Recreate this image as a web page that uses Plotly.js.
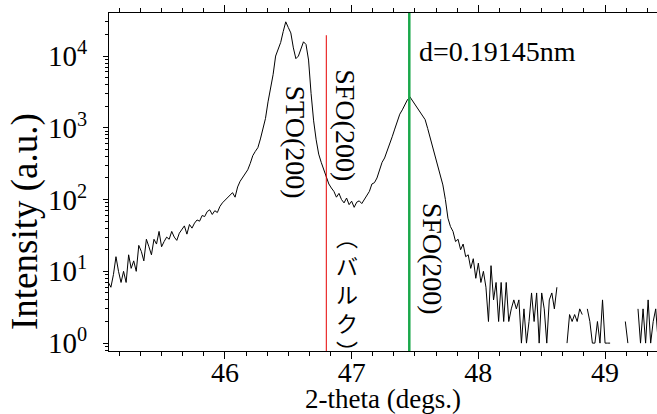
<!DOCTYPE html>
<html>
<head>
<meta charset="utf-8">
<script src="https://cdn.plot.ly/plotly-3.0.1.min.js"></script>
<style>html,body{margin:0;padding:0;background:#fff;}#chart{width:657px;height:414px;}</style>
</head>
<body>
<div id="chart"></div>
<script>
// ---- data ----
const scanStart = 45.08;   // 2-theta of first point (deg)
const scanStep = 0.02;     // step (deg)
const intensity = [
  7,6,9,16,10,7,10,7,17,11,
  14,10,23,19,14,28,22,17,28,24,
  36,22,26,30,28,36,30,27,34,38,
  43,33,45,40,47,52,50,60,58,68,
  72,62,70,66,80,90,98,
  105,118,125,108,150,180,205,230,260,320,
  410,470,530,700,950,1350,2300,3500,5500,10000,
  12500,15500,22000,30000,25000,21000,13000,9200,10000,13000,
  15800,14500,8800,3000,1250,680,430,330,255,205,
  165,145,130,108,122,100,90,105,85,95,
  78,92,96,
  88,100,115,130,165,172,200,250,330,380,
  470,620,750,960,1250,1550,1780,2100,2450,2700,
  2400,2100,1850,1650,1450,1300,980,720,520,400,
  300,220,160,100,55,42,36,26,28,20,
  24,16,17,11,15,8,13,7,10,6,
  2,12,4,7,2,7,2,7,2,3,
  4,3,4,1,3,1,2,5,2,5,
  1,5,3,1,4,5,3,6,0,0,
  0,1,2.5,2,2.5,2,3,2.5,0,3,
  2,1,1,2,1,4,1,1,1,0,
  0,0,0,0,2,1,0,0,0,3,
  1,3,1,4,1,2,3,1
];
const bulkSFO_x = 46.8;      // SFO(200) bulk position (red line)
const bulkSFO_top = 19500;   // top of red marker line
const filmSFO_x = 47.455;    // measured SFO(200) peak (green line)
const xTickVals = [46, 47, 48, 49];
const yTickVals = [1, 10, 100, 1000, 10000];
const yTickText = ['10<sup>0</sup>', '10<sup>1</sup>', '10<sup>2</sup>', '10<sup>3</sup>', '10<sup>4</sup>'];
const labels = {
  sto: 'STO(200)',
  sfoBulk: 'SFO(200)',
  bulk: '︵<br>バ<br>ル<br>ク<br>︶',
  sfoFilm: 'SFO(200)',
  dSpacing: 'd=0.19145nm',
  xTitle: '2-theta (degs.)',
  yTitle: 'Intensity (a.u.)'
};

// ---- build ----
const twoTheta = intensity.map((_, i) => +(scanStart + i * scanStep).toFixed(3));
const yPlot = intensity.map(v => v > 0 ? v : null);

const minorY = [];
for (let e = -1; e <= 4; e++) for (let m = 2; m <= 9; m++) minorY.push(m * Math.pow(10, e));

const serif = '"Liberation Serif", "Times New Roman", serif';

const traces = [
  {x: twoTheta, y: yPlot, type: 'scatter', mode: 'lines', connectgaps: false,
   line: {color: 'black', width: 1}, hoverinfo: 'skip'},
  {x: [bulkSFO_x, bulkSFO_x], y: [0.5, bulkSFO_top], type: 'scatter', mode: 'lines',
   line: {color: '#e60000', width: 1}, hoverinfo: 'skip'},
  {x: [filmSFO_x, filmSFO_x], y: [0.5, 1e6], type: 'scatter', mode: 'lines',
   line: {color: '#1aa84a', width: 2.5}, hoverinfo: 'skip'}
];

const layout = {
  width: 657, height: 414,
  margin: {l: 109, r: 0, t: 13, b: 63, pad: 0},
  paper_bgcolor: 'white', plot_bgcolor: 'white',
  showlegend: false,
  font: {family: serif, color: 'black'},
  xaxis: {
    range: [45.085, 49.41], showline: true, linecolor: 'black', linewidth: 1,
    mirror: 'allticks', ticks: 'outside', ticklen: 7, tickwidth: 1, tickcolor: 'black',
    tickmode: 'array', tickvals: xTickVals, tickfont: {size: 28, family: serif, color: 'black'},
    ticklabelposition: 'outside', ticklabelstandoff: -11,
    showgrid: false, zeroline: false,
    minor: {ticks: 'outside', ticklen: 4, tickwidth: 1, tickcolor: 'black', dtick: 1/6, tick0: 46, showgrid: false},
    title: {text: labels.xTitle, font: {size: 27, family: serif, color: 'black'}, standoff: 0}
  },
  yaxis: {
    type: 'log', range: [-0.11, 4.6], showline: true, linecolor: 'black', linewidth: 1,
    ticks: 'outside', ticklen: 5, tickwidth: 1, tickcolor: 'black',
    tickmode: 'array', tickvals: yTickVals, ticktext: yTickText,
    tickfont: {size: 29, family: serif, color: 'black'}, ticklabelstandoff: 10,
    showgrid: false, zeroline: false,
    minor: {ticks: 'outside', ticklen: 3, tickwidth: 1, tickcolor: 'black', tickmode: 'array', tickvals: minorY, showgrid: false}
  },
  annotations: [
    {x: -0.153, y: 0.382, xref: 'paper', yref: 'paper', text: labels.yTitle, textangle: -90, showarrow: false,
     xanchor: 'center', yanchor: 'middle', font: {size: 37, family: serif, color: 'black'}},
    {x: 46.557, y: 2.802, xref: 'x', yref: 'y', text: labels.sto, textangle: 90, showarrow: false,
     font: {size: 28, family: serif, color: 'black'}},
    {x: 46.954, y: 3.039, xref: 'x', yref: 'y', text: labels.sfoBulk, textangle: 90, showarrow: false,
     font: {size: 28, family: serif, color: 'black'}},
    {x: 46.963, y: 0.70, xref: 'x', yref: 'y', text: labels.bulk, showarrow: false,
     font: {size: 22, family: 'Noto Sans CJK JP', color: 'black'}},
    {x: 47.645, y: 1.172, xref: 'x', yref: 'y', text: labels.sfoFilm, textangle: 90, showarrow: false,
     font: {size: 28, family: serif, color: 'black'}},
    {x: 47.516, y: 4.057, xref: 'x', yref: 'y', text: labels.dSpacing, xanchor: 'left', showarrow: false,
     font: {size: 28, family: serif, color: 'black'}}
  ]
};

Plotly.newPlot('chart', traces, layout, {staticPlot: true, displayModeBar: false});
</script>
</body>
</html>
